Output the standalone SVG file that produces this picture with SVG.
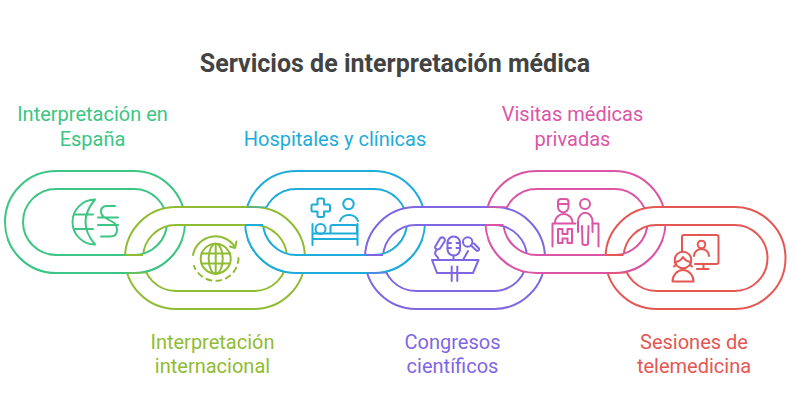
<svg xmlns="http://www.w3.org/2000/svg" width="796" height="410" viewBox="0 0 796 410">
<style>
text{font-family:Roboto,"Liberation Sans",sans-serif;font-size:20px;text-anchor:middle}
.title{font-size:25px;font-weight:700;fill:#434343}
.band{fill:#fff;fill-rule:evenodd;stroke-width:2}
.ic{fill:none;stroke-width:2;stroke-linecap:round;stroke-linejoin:round}
.seg{fill:none;stroke-width:2}
.c1{stroke:#3cc583}.c2{stroke:#90bc33}.c3{stroke:#1eacda}.c4{stroke:#7f66e3}.c5{stroke:#db55a6}.c6{stroke:#e55753}
.t1{fill:#3cc583}.t2{fill:#90bc33}.t3{fill:#1eacda}.t4{fill:#7f66e3}.t5{fill:#db55a6}.t6{fill:#e55753}
</style>
<defs>
<path id="link" d="M51,0H129A51,51 0 0 1 129,102H51A51,51 0 0 1 51,0ZM51,18A33,33 0 0 0 51,84H129A33,33 0 0 0 129,18Z"/>
<clipPath id="low"><rect x="0" y="240" width="796" height="50"/></clipPath>
</defs>
<rect width="796" height="410" fill="#fff"/>
<text class="title" x="395" y="71.500">Servicios de interpretación médica</text>

<g id="node-1">
<use href="#link" x="5" y="171" class="band c1"/>
<g class="ic c1">
<path d="M95,199.5A22.5,22.5 0 0 0 95,244.5M95,199.5Q76,222 95,244.5M75,214.5H93M75,229H93"/>
<path d="M115,206H107Q101,206 101,211.5Q101,215.5 105.5,218L113.500,222.500Q117,225 117,230Q117,236.500 110,236.500H101M98,217.500H118M98,225H118"/>
</g>
<text class="t1" x="92.500" y="120.500">Interpretación en</text>
<text class="t1" x="92.500" y="145.500">España</text>
</g>
<g id="node-3">
<use href="#link" x="245" y="171" class="band c3"/>
<g class="ic c3">
<path d="M317.500,199.500Q317.500,198.500 319,198.500H322.500Q324,198.500 324,200V204.500H328.500Q330,204.500 330,206V210Q330,211.500 328.500,211.500H324V216Q324,217 322.500,217H319Q317.500,217 317.500,216V211.500H313Q311.500,211.500 311.500,210V206Q311.500,204.500 313,204.500H317.500Z"/>
<circle cx="348.500" cy="204" r="5.200"/>
<path d="M340,221A9.500,9 0 0 1 358,221"/>
<path d="M312.500,224V245M357.500,224V245M312.500,233.500H357.500M312.500,239H357.500"/>
<circle cx="320.500" cy="229" r="5"/>
<path d="M330.500,233V227Q330.500,225 332.500,225H355Q357,225 357,227V233"/>
</g>
<text class="t3" x="335" y="145.500">Hospitales y clínicas</text>
</g>
<g id="node-5">
<use href="#link" x="485.500" y="171" class="band c5"/>
<g class="ic c5">
<path d="M558,203V202Q558,199 561,199H565.500Q568.500,199 568.500,202V207A5.200,5.200 0 0 1 558,207ZM558,204H568.500"/>
<path d="M555,222.500A8.700,8.500 0 0 1 572.500,222.500"/>
<path d="M552.500,246.500V223.500H575.500"/>
<path d="M558,229H562.500V234H567.500V229H572V243H567.500V238.500H562.500V243H558Z"/>
<circle cx="585" cy="204" r="5"/>
<path d="M578,232V221.500A7,8.500 0 0 1 592.500,221.500V232M582,226L582.500,244Q583,245 585,245Q587.500,245 588,244L588.500,226"/>
<path d="M592.500,223.500H598.500V246.500"/>
</g>
<text class="t5" x="572.500" y="120.500">Visitas médicas</text>
<text class="t5" x="572.500" y="145.500">privadas</text>
</g>

<g id="node-2">
<use href="#link" x="125" y="207" class="band c2"/>
<g class="ic c2">
<circle cx="215.700" cy="258.700" r="15"/>
<ellipse cx="215.700" cy="258.700" rx="7" ry="15"/>
<path d="M215.700,243.700V273.700M201.500,253.500H230M201.500,263.500H230"/>
<path d="M193,255A23,23 0 0 1 235,247M230,246.500L235,248L236.500,241.500"/>
<path d="M238.500,258A23,23 0 0 1 194,266" stroke-dasharray="5 5"/>
</g>
<text class="t2" x="212.500" y="349">Interpretación</text>
<text class="t2" x="212.500" y="373">internacional</text>
</g>
<g id="node-4">
<use href="#link" x="365" y="207" class="band c4"/>
<g class="ic c4">
<rect x="447.500" y="236.500" width="12.500" height="19" rx="6.200"/>
<path d="M447.500,243H451M447.500,248H451M456.500,243H460M456.500,248H460M453.500,255.500V260"/>
<path d="M435.500,246L440,238.500Q442,236.500 444,238Q445.500,239.500 444.500,241.500L440,248.500Q438,250 436,249Q434.500,248 435.500,246ZM436.500,250Q434,253 436,255.500Q439,258 438.500,260"/>
<circle cx="467.700" cy="242" r="4.700"/>
<path d="M471,245.500L477,251M474,243.500L479,248.500Q479.500,250.500 477,251M468,251L463,260"/>
<path d="M432,260H478.500L473,273H437ZM451.700,266.500V281M457.300,266.500V281"/>
</g>
<text class="t4" x="452.500" y="349">Congresos</text>
<text class="t4" x="452.500" y="373">científicos</text>
</g>
<g id="node-6">
<use href="#link" x="605.500" y="207" class="band c6"/>
<g class="ic c6">
<path d="M682,251V237Q682,235 684,235H716.500Q718.500,235 718.500,237V262Q718.500,264 716.500,264H695"/>
<path d="M703.500,264V268.500M697,269H708.500"/>
<circle cx="701.500" cy="244.500" r="3.800"/>
<path d="M694,256A7.500,7 0 0 1 709,256"/>
<circle cx="683" cy="260" r="8.300"/>
<path d="M675,262Q680.500,261.500 683,257Q685.500,261.500 691,262M674,266.500Q676,266 675.500,263M692,266.500Q690,266 690.500,263"/>
<path d="M672.500,281.500A10.500,11.500 0 0 1 693.500,281.500Z"/>
</g>
<text class="t6" x="694" y="349">Sesiones de</text>
<text class="t6" x="694" y="373">telemedicina</text>
</g>

<g id="connectors">
<g clip-path="url(#low)">
<use href="#link" x="5" y="171" class="band c1"/>
<use href="#link" x="245" y="171" class="band c3"/>
<use href="#link" x="485.500" y="171" class="band c5"/>
</g>
<path class="seg c2" d="M125,255H143"/>
<path class="seg c2" d="M127,273H147" stroke-opacity=".45"/>
<path class="seg c3" d="M245,225H263"/>
<path class="seg c3" d="M247,207H266" stroke-opacity=".45"/>
<path class="seg c4" d="M365,255H383"/>
<path class="seg c4" d="M367,273H387" stroke-opacity=".45"/>
<path class="seg c5" d="M485.500,225H503.500"/>
<path class="seg c5" d="M487.500,207H506.500" stroke-opacity=".7"/>
<path class="seg c6" d="M605.500,255H623.500"/>
<path class="seg c6" d="M607.500,273H627.500" stroke-opacity=".45"/>
</g>
</svg>
